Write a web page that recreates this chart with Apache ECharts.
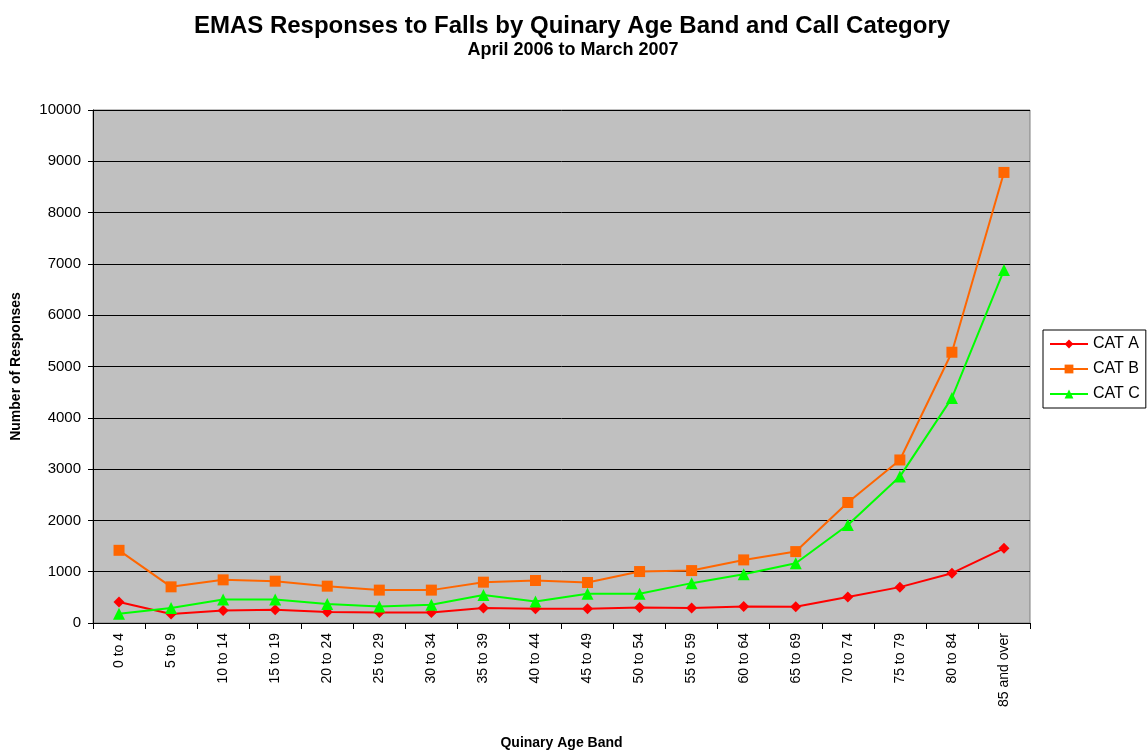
<!DOCTYPE html>
<html>
<head>
<meta charset="utf-8">
<script src="https://cdn.jsdelivr.net/npm/echarts@6/dist/echarts.min.js"></script>
<style>
  html, body { margin: 0; padding: 0; background: #fff; }
  #chart { width: 1148px; height: 755px; }
</style>
</head>
<body>
<div id="chart"></div>
<script>
const ageBands = ["0 to 4", "5 to 9", "10 to 14", "15 to 19", "20 to 24", "25 to 29",
  "30 to 34", "35 to 39", "40 to 44", "45 to 49", "50 to 54", "55 to 59",
  "60 to 64", "65 to 69", "70 to 74", "75 to 79", "80 to 84", "85 and over"];

const catA = [408, 175, 246, 259, 214, 207, 207, 291, 278, 278, 304, 291, 323, 318, 505, 699, 971, 1456];
const catB = [1417, 705, 841, 815, 718, 641, 641, 796, 828, 790, 1003, 1022, 1230, 1392, 2349, 3178, 5278, 8783];
const catC = [181, 291, 460, 460, 369, 323, 356, 544, 421, 569, 569, 777, 951, 1165, 1909, 2854, 4388, 6880];

const yTicks = { min: 0, max: 10000, interval: 1000 };

const font = "Liberation Sans, Arial, sans-serif";

const chart = echarts.init(document.getElementById("chart"), null, { renderer: "canvas" });

const makeSeries = (name, data, color, symbol, size) => ({
  name: name,
  type: "line",
  data: data,
  symbol: symbol,
  symbolSize: size,
  showAllSymbol: true,
  lineStyle: { color: color, width: 2 },
  itemStyle: { color: color },
  emphasis: { disabled: true },
  animation: false
});

chart.setOption({
  backgroundColor: "#ffffff",
  title: [
    {
      text: "EMAS Responses to Falls by Quinary Age Band and Call Category",
      left: 567,
      textAlign: "center",
      top: 9,
      textStyle: { fontFamily: font, fontSize: 24, fontWeight: "bold", color: "#000" }
    },
    {
      text: "April 2006 to March 2007",
      left: 568,
      textAlign: "center",
      top: 36,
      textStyle: { fontFamily: font, fontSize: 18, fontWeight: "bold", color: "#000" }
    }
  ],
  legend: {
    orient: "vertical",
    left: 1043,
    top: 330,
    padding: [6, 6, 6, 6],
    itemGap: 9,
    itemWidth: 38,
    itemHeight: 11,
    borderColor: "#000",
    borderWidth: 1,
    backgroundColor: "#fff",
    textStyle: { fontFamily: font, fontSize: 16, color: "#000" },
    data: ["CAT A", "CAT B", "CAT C"]
  },
  grid: {
    left: 93,
    right: 118,
    top: 110,
    bottom: 130,
    show: true,
    backgroundColor: "#C0C0C0",
    borderColor: "#808080",
    borderWidth: 1
  },
  xAxis: {
    type: "category",
    data: ageBands,
    boundaryGap: true,
    name: "Quinary Age Band",
    nameLocation: "middle",
    nameGap: 113,
    nameTextStyle: { fontFamily: font, fontSize: 14, fontWeight: "bold", color: "#000" },
    axisLine: { lineStyle: { color: "#000", width: 1 } },
    axisTick: { show: true, alignWithLabel: false, length: 6, lineStyle: { color: "#000" } },
    axisLabel: {
      rotate: 90,
      interval: 0,
      margin: 10,
      fontFamily: font,
      fontSize: 14,
      color: "#000"
    },
    splitLine: { show: false }
  },
  yAxis: {
    type: "value",
    min: yTicks.min,
    max: yTicks.max,
    interval: yTicks.interval,
    name: "Number of Responses",
    nameLocation: "middle",
    nameGap: 70,
    nameRotate: 90,
    nameTextStyle: { fontFamily: font, fontSize: 14, fontWeight: "bold", color: "#000" },
    axisLine: { show: true, lineStyle: { color: "#000", width: 1 } },
    axisTick: { show: true, length: 5, lineStyle: { color: "#000" } },
    axisLabel: {
      fontFamily: font,
      fontSize: 15,
      color: "#000",
      margin: 12,
      formatter: v => String(v)
    },
    splitLine: { show: true, lineStyle: { color: "#000", width: 1 } }
  },
  series: [
    makeSeries("CAT A", catA, "#FF0000", "diamond", 11),
    makeSeries("CAT B", catB, "#FF6600", "rect", 11),
    makeSeries("CAT C", catC, "#00FF00", "triangle", 12)
  ]
});
</script>
</body>
</html>
